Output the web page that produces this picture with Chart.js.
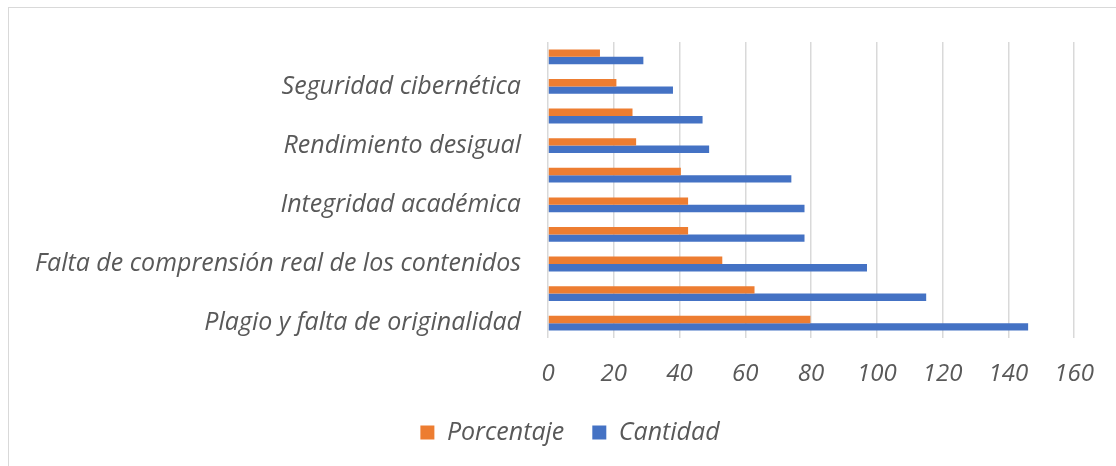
<!DOCTYPE html>
<html>
<head>
<meta charset="utf-8">
<script src="https://cdn.jsdelivr.net/npm/chart.js@4.4.1/dist/chart.umd.min.js"></script>
<style>
    html, body { margin: 0; padding: 0; background: #fff; }
    .frame {
        position: absolute;
        left: 8px; top: 7px;
        width: 1120px; height: 470px;
        border: 1px solid #d9d9d9;
    }
    .wrap { position: absolute; left: 0; top: 0; width: 1116px; height: 466px; }
</style>
</head>
<body>
<div class="frame"></div>
<div class="wrap"><canvas id="chart"></canvas></div>
<script>
// top to bottom, as drawn (Excel skips every other category label)
const categories = [
    '',
    'Seguridad cibernética',
    '',
    'Rendimiento desigual',
    '',
    'Integridad académica',
    '',
    'Falta de comprensión real de los contenidos',
    '',
    'Plagio y falta de originalidad'
];
const porcentaje = [15.8, 20.8, 25.7, 26.8, 40.4, 42.6, 42.6, 53.0, 62.8, 79.8];
const cantidad = [29, 38, 47, 49, 74, 78, 78, 97, 115, 146];
const xTicks = [0, 20, 40, 60, 80, 100, 120, 140, 160];

const grey = '#595959';
const fontFamily = '"Open Sans", Lato, sans-serif';

// the legend sits a bit right of the canvas centre in the original
const shiftLegend = {
    id: 'shiftLegend',
    afterLayout(chart) {
        chart.legend.left += 31;
        chart.legend.right += 31;
    }
};

const ctx = document.getElementById('chart').getContext('2d');
const chart = new Chart(ctx, {
    type: 'bar',
    data: {
        labels: categories,
        datasets: [{
            label: 'Porcentaje',
            data: porcentaje,
            backgroundColor: '#ED7D31',
            borderWidth: 0
        }, {
            label: 'Cantidad',
            data: cantidad,
            backgroundColor: '#4472C4',
            borderWidth: 0
        }]
    },
    options: {
        indexAxis: 'y',
        responsive: true,
        maintainAspectRatio: false,
        animation: false,
        categoryPercentage: 0.5,
        barPercentage: 1.0,
        layout: {
            padding: { top: 36, right: 38, left: 0, bottom: 11 }
        },
        scales: {
            x: {
                min: 0,
                max: 160,
                afterBuildTicks: axis => {
                    axis.ticks = xTicks.map(v => ({ value: v }));
                },
                afterFit: axis => { axis.height = 54; },
                grid: {
                    color: '#d9d9d9',
                    lineWidth: 1.5,
                    drawTicks: false
                },
                border: { display: false },
                ticks: {
                    color: grey,
                    padding: 22,
                    font: { family: fontFamily, size: 24, style: 'italic' }
                }
            },
            y: {
                afterFit: axis => { axis.width = 548; },
                grid: { display: false, drawTicks: false },
                border: { display: false },
                ticks: {
                    autoSkip: false,
                    color: grey,
                    padding: 27,
                    font: { family: fontFamily, size: 25, style: 'italic' }
                }
            }
        },
        plugins: {
            legend: {
                position: 'bottom',
                labels: {
                    color: grey,
                    boxWidth: 14,
                    boxHeight: 14,
                    padding: 28,
                    font: { family: fontFamily, size: 25, style: 'italic' }
                }
            },
            tooltip: { enabled: false }
        }
    },
    plugins: [shiftLegend]
});
</script>
</body>
</html>
